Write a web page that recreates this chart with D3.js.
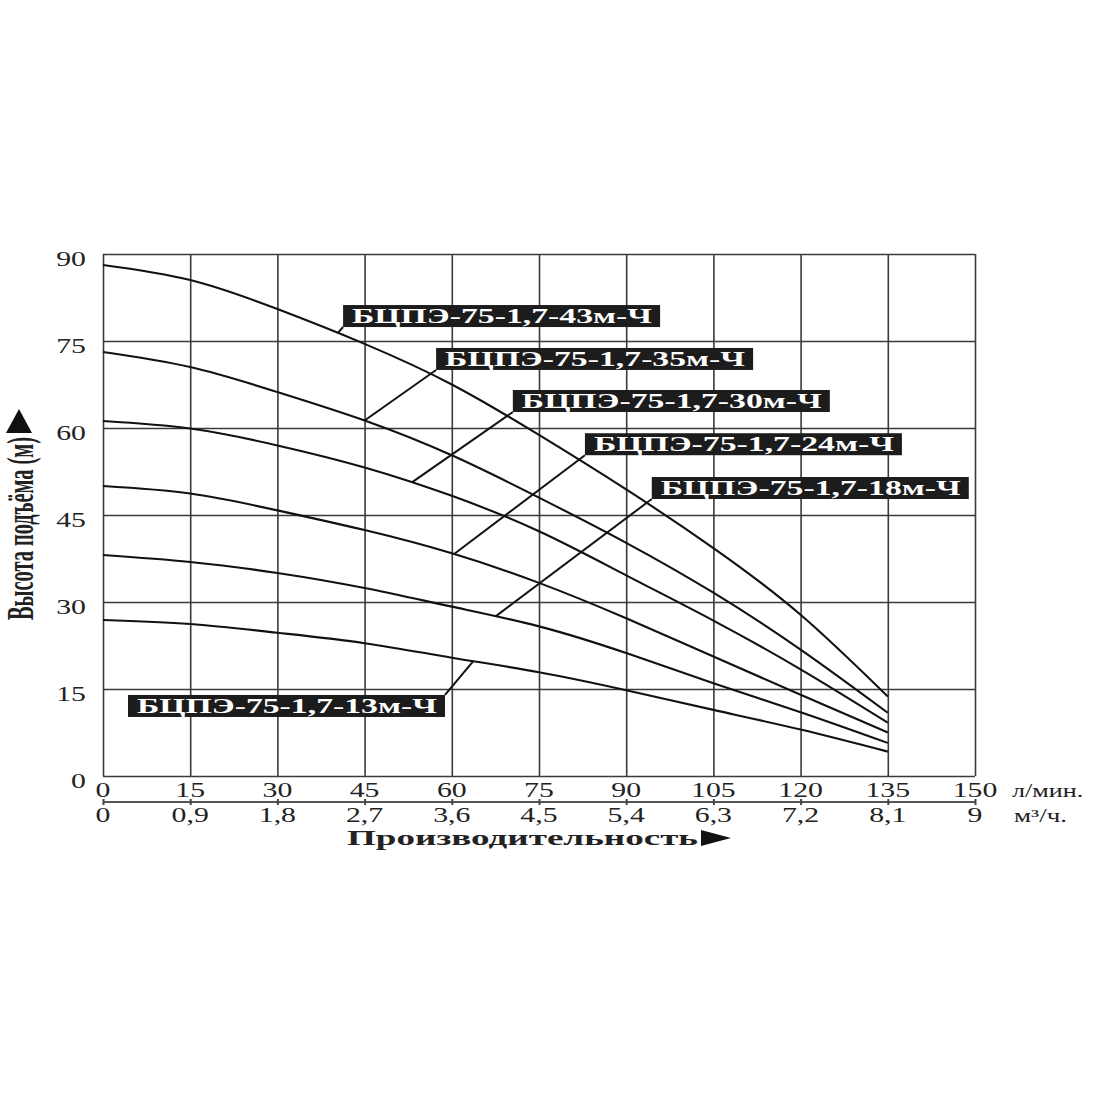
<!DOCTYPE html>
<html>
<head>
<meta charset="utf-8">
<script src="https://cdn.jsdelivr.net/npm/d3@7"></script>
<style>
  html, body { margin: 0; padding: 0; background: #fff; }
  svg { display: block; }
  text { font-family: "Liberation Serif", "Times New Roman", serif; }
</style>
</head>
<body>
<svg id="chart" width="1100" height="1100"></svg>
<script>
// ---------- DATA ----------
const flowLpm = [0, 15, 30, 45, 60, 75, 90, 105, 120, 135];   // л/мин
const head43 = [88.1, 85.5, 80.5, 74.5, 67.5, 58.8, 49.4, 39.3, 27.8, 13.7];
const head35 = [73.1, 70.5, 66.2, 61.3, 55.3, 48.0, 40.2, 31.6, 21.8, 10.9];
const head30 = [61.2, 59.9, 57.0, 53.2, 48.3, 42.2, 34.6, 26.8, 18.4, 9.2];
const head24 = [50.0, 48.7, 45.8, 42.4, 38.4, 33.3, 27.2, 20.6, 14.0, 7.5];
const head18 = [38.1, 36.9, 35.0, 32.4, 29.2, 25.8, 21.2, 16.0, 11.0, 5.7];
const head13 = [26.9, 26.2, 24.7, 22.9, 20.4, 17.9, 14.8, 11.4, 8.0, 4.2];
const modelNames = ["БЦПЭ-75-1,7-43м-Ч", "БЦПЭ-75-1,7-35м-Ч", "БЦПЭ-75-1,7-30м-Ч",
                    "БЦПЭ-75-1,7-24м-Ч", "БЦПЭ-75-1,7-18м-Ч", "БЦПЭ-75-1,7-13м-Ч"];
const lpmTicks = [0, 15, 30, 45, 60, 75, 90, 105, 120, 135, 150];
const m3hTicks = [0, 0.9, 1.8, 2.7, 3.6, 4.5, 5.4, 6.3, 7.2, 8.1, 9];
const headTicks = [0, 15, 30, 45, 60, 75, 90];
const yTitle = "Высота подъёма (м)";
const xTitle = "Производительность";
const unitLpm = "л/мин.";
const unitM3h = "м³/ч.";
// annotation anchors (data units): box corner and point on curve where leader ends
const labelBoxQ = [41.3, 57.3, 70.5, 82.9, 94.4, 4.3];
const labelBoxV = [81.2, 73.8, 66.55, 59.1, 51.55, 13.97];
const leaderQ   = [40.4, 45.0, 53.2, 60.4, 67.6, 63.7];

const series = [head43, head35, head30, head24, head18, head13];

// ---------- LAYOUT ----------
const svg = d3.select("#chart");
const x = d3.scaleLinear().domain([0, 150]).range([103, 975]);
const x2 = d3.scaleLinear().domain([0, 9]).range([103, 975]);
const y = d3.scaleLinear().domain([0, 90]).range([776, 254]);
const gridColor = "#3a3a3a";
const stretch = 1.42;

// grid via axes
svg.append("g")
  .attr("transform", `translate(0,${y(0)})`)
  .call(d3.axisBottom(x).tickValues(lpmTicks).tickSize(-(y(0) - y(90))).tickFormat(""))
  .call(g => g.select(".domain").remove())
  .call(g => g.selectAll("line").attr("stroke", gridColor).attr("stroke-width", 1.6));
svg.append("g")
  .attr("transform", `translate(${x(0)},0)`)
  .call(d3.axisLeft(y).tickValues(headTicks).tickSize(-(x(150) - x(0))).tickFormat(""))
  .call(g => g.select(".domain").remove())
  .call(g => g.selectAll("line").attr("stroke", gridColor).attr("stroke-width", 1.6));

// y tick labels
svg.append("g").selectAll("text").data(headTicks).join("text")
  .attr("transform", d => `translate(86,${y(d) + 12}) scale(${stretch},1)`)
  .attr("text-anchor", "end")
  .attr("font-size", 21)
  .attr("fill", "#222")
  .text(d => d);

// x tick labels (л/мин)
svg.append("g").selectAll("text").data(lpmTicks).join("text")
  .attr("transform", d => `translate(${x(d)},797) scale(${stretch},1)`)
  .attr("text-anchor", "middle")
  .attr("font-size", 21)
  .attr("fill", "#222")
  .text(d => d);

// second axis (м³/ч)
const ax2 = svg.append("g")
  .attr("transform", `translate(0,802)`)
  .call(d3.axisBottom(x2).tickValues(m3hTicks).tickSizeInner(3).tickSizeOuter(0).tickFormat(""));
ax2.select(".domain").attr("stroke", "#555").attr("stroke-width", 2.2).attr("d", `M${x2(0)},0H${x2(9)}`);
ax2.selectAll(".tick line").attr("stroke", "#444").attr("stroke-width", 2).attr("y1", -3).attr("y2", 3);

const fmtComma = d => (+d.toFixed(1)).toString().replace(".", ",");
svg.append("g").selectAll("text").data(m3hTicks).join("text")
  .attr("transform", d => `translate(${x2(d)},822) scale(${stretch},1)`)
  .attr("text-anchor", "middle")
  .attr("font-size", 21)
  .attr("fill", "#222")
  .text(fmtComma);

// units
svg.append("text")
  .attr("transform", `translate(1012,797) scale(1.45,1)`)
  .attr("font-size", 18).attr("fill", "#222").text(unitLpm);
svg.append("text")
  .attr("transform", `translate(1014,822) scale(1.5,1)`)
  .attr("font-size", 18).attr("fill", "#222").text(unitM3h);

// x title + arrow
svg.append("text")
  .attr("x", 347).attr("y", 845)
  .attr("font-size", 22).attr("font-weight", "bold").attr("fill", "#222")
  .attr("textLength", 351).attr("lengthAdjust", "spacingAndGlyphs")
  .text(xTitle);
svg.append("path").attr("d", "M701,830L731,838L701,846Z").attr("fill", "#111");

// y title + arrow
svg.append("text")
  .attr("transform", "translate(33,620) rotate(-90)")
  .attr("font-size", 38).attr("font-weight", "bold").attr("fill", "#222")
  .attr("textLength", 183).attr("lengthAdjust", "spacingAndGlyphs")
  .text(yTitle);
svg.append("path").attr("d", "M19,409L32,433L6,433Z").attr("fill", "#111");

// curves
const line = d3.line()
  .x((d, i) => x(flowLpm[i]))
  .y(d => y(d))
  .curve(d3.curveNatural);
const paths = series.map(s =>
  svg.append("path").datum(s)
    .attr("d", line)
    .attr("fill", "none")
    .attr("stroke", "#111")
    .attr("stroke-width", 2.1)
    .node()
);

function pointAtX(pathNode, targetX) {
  const L = pathNode.getTotalLength();
  let lo = 0, hi = L;
  for (let k = 0; k < 40; k++) {
    const mid = (lo + hi) / 2;
    const p = pathNode.getPointAtLength(mid);
    if (p.x < targetX) lo = mid; else hi = mid;
  }
  return pathNode.getPointAtLength((lo + hi) / 2);
}

// labels with leaders
const boxW = 317, boxH = 22;
modelNames.forEach((name, i) => {
  const bx = x(labelBoxQ[i]), by = y(labelBoxV[i]);
  const p = pointAtX(paths[i], x(leaderQ[i]));
  const corner = i === 5 ? [bx + boxW, by] : [bx, by + boxH];
  svg.append("line")
    .attr("x1", corner[0]).attr("y1", corner[1])
    .attr("x2", p.x).attr("y2", p.y)
    .attr("stroke", "#111").attr("stroke-width", 2);
  svg.append("rect")
    .attr("x", bx).attr("y", by).attr("width", boxW).attr("height", boxH)
    .attr("fill", "#1c1c1c");
  svg.append("text")
    .attr("x", bx + 9).attr("y", by + 18)
    .attr("font-size", 22).attr("font-weight", "bold").attr("fill", "#fff")
    .attr("textLength", 300).attr("lengthAdjust", "spacingAndGlyphs")
    .text(name);
});
</script>
</body>
</html>
